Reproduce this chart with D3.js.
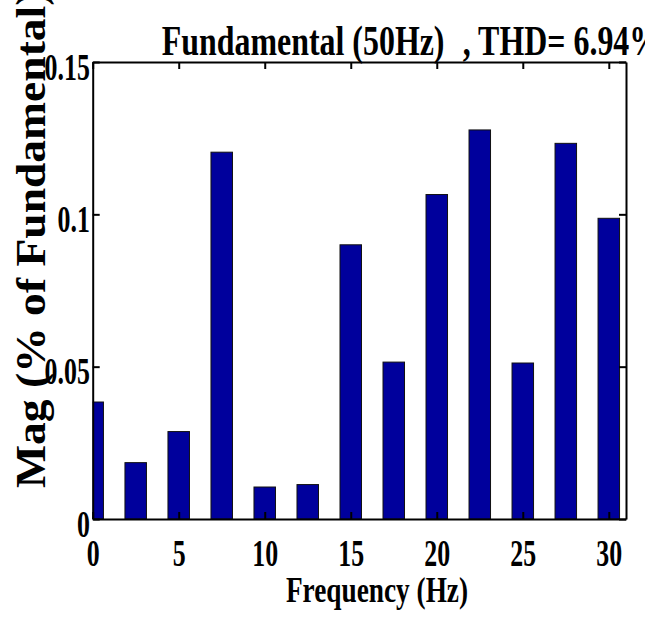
<!DOCTYPE html>
<html>
<head>
<meta charset="utf-8">
<script src="https://cdn.jsdelivr.net/npm/d3@7"></script>
<style>
  body { margin: 0; background: #fff; }
  svg { display: block; font-family: "Liberation Serif", "Times New Roman", serif; font-weight: bold; }
</style>
</head>
<body>
<svg id="chart"></svg>
<script>
// harmonic spectrum, values
const freqs = [0, 2.5, 5, 7.5, 10, 12.5, 15, 17.5, 20, 22.5, 25, 27.5, 30];
const mags = [0.0384, 0.0185, 0.0287, 0.1204, 0.0105, 0.0113, 0.0900, 0.0515, 0.1065, 0.1277, 0.0512, 0.1233, 0.0987];
const xTicks = [0, 5, 10, 15, 20, 25, 30];
const yTicks = [0, 0.05, 0.1, 0.15];
const xDomain = [0, 31];
const yDomain = [0, 0.15];
const titleMain = 'Fundamental (50Hz)';
const titleThd = ', THD= 6.94%';
const xName = 'Frequency (Hz)';
const yName = 'Mag (% of Fundamental)';

const width = 645, height = 626;
const margin = { top: 62, right: 19, bottom: 107, left: 92.7 };
const barColor = '#00009c';
const tickLen = 7;
const squeeze = 0.70; // text looks squeezed sideways

const svg = d3.select('#chart')
  .attr('width', width)
  .attr('height', height);

const x = d3.scaleLinear(xDomain, [margin.left, width - margin.right]);
const y = d3.scaleLinear(yDomain, [height - margin.bottom, margin.top]);
const barW = 0.5 * (freqs[1] - freqs[0]);

// bars, clipped to the axes box
svg.append('clipPath')
  .attr('id', 'plot-clip')
.append('rect')
  .attr('x', x(xDomain[0]))
  .attr('y', y(yDomain[1]))
  .attr('width', x(xDomain[1]) - x(xDomain[0]))
  .attr('height', y(yDomain[0]) - y(yDomain[1]));

svg.append('g')
  .attr('class', 'bar-group')
  .attr('clip-path', 'url(#plot-clip)')
.selectAll('rect')
  .data(freqs)
  .join('rect')
  .attr('x', d => x(d - barW / 2))
  .attr('width', d => x(d + barW / 2) - x(d - barW / 2))
  .attr('y', (d, i) => y(mags[i]))
  .attr('height', (d, i) => y(0) - y(mags[i]))
  .attr('fill', barColor)
  .attr('stroke', '#111')
  .attr('stroke-width', 1);

// axes box with inward ticks on all four sides
const axisGroup = svg.append('g').attr('class', 'axis-group');
const fmt = d => String(d);

const _style = g => {
  g.attr('font-family', null).attr('font-size', null);
  g.select('.domain').attr('stroke', '#000').attr('stroke-width', 2);
  g.selectAll('.tick line').attr('stroke', '#000').attr('stroke-width', 2);
};

axisGroup.append('g')
  .attr('transform', `translate(0, ${y(0)})`)
  .call(d3.axisBottom(x).tickValues(xTicks).tickFormat(fmt).tickSize(-tickLen).tickSizeOuter(0))
  .call(_style)
  .call(g => g.selectAll('.tick text')
    .attr('y', 47)
    .attr('dy', null)
    .attr('font-size', 37)
    .attr('fill', '#000')
    .attr('transform', `scale(${squeeze}, 1)`));

axisGroup.append('g')
  .attr('transform', `translate(0, ${y(yDomain[1])})`)
  .call(d3.axisTop(x).tickValues(xTicks).tickFormat('').tickSize(-tickLen).tickSizeOuter(0))
  .call(_style);

axisGroup.append('g')
  .attr('transform', `translate(${x(0)}, 0)`)
  .call(d3.axisLeft(y).tickValues(yTicks).tickFormat(fmt).tickSize(-tickLen).tickSizeOuter(0))
  .call(_style)
  .call(g => g.selectAll('.tick text')
    .attr('x', -4)
    .attr('dy', 17)
    .attr('font-size', 37)
    .attr('fill', '#000')
    .attr('transform', `scale(${squeeze}, 1)`));

axisGroup.append('g')
  .attr('transform', `translate(${x(xDomain[1])}, 0)`)
  .call(d3.axisRight(y).tickValues(yTicks).tickFormat('').tickSize(-tickLen).tickSizeOuter(0))
  .call(_style);

// title, cut off by the right edge as in the source
const title = svg.append('g')
  .attr('transform', `translate(161.7, 55) scale(0.76, 1)`)
.append('text')
  .attr('font-size', 42)
  .attr('fill', '#000');
title.append('tspan').text(titleMain);
title.append('tspan').attr('dx', 24).text(titleThd);

// axis names
svg.append('g')
  .attr('transform', `translate(377, 601.7) scale(0.78, 1)`)
.append('text')
  .attr('text-anchor', 'middle')
  .attr('font-size', 35)
  .attr('fill', '#000')
  .text(xName);

svg.append('g')
  .attr('transform', `translate(45, 488) rotate(-90) scale(1.06, 1)`)
.append('text')
  .attr('text-anchor', 'start')
  .attr('font-size', 43)
  .attr('fill', '#000')
  .text(yName);
</script>
</body>
</html>
